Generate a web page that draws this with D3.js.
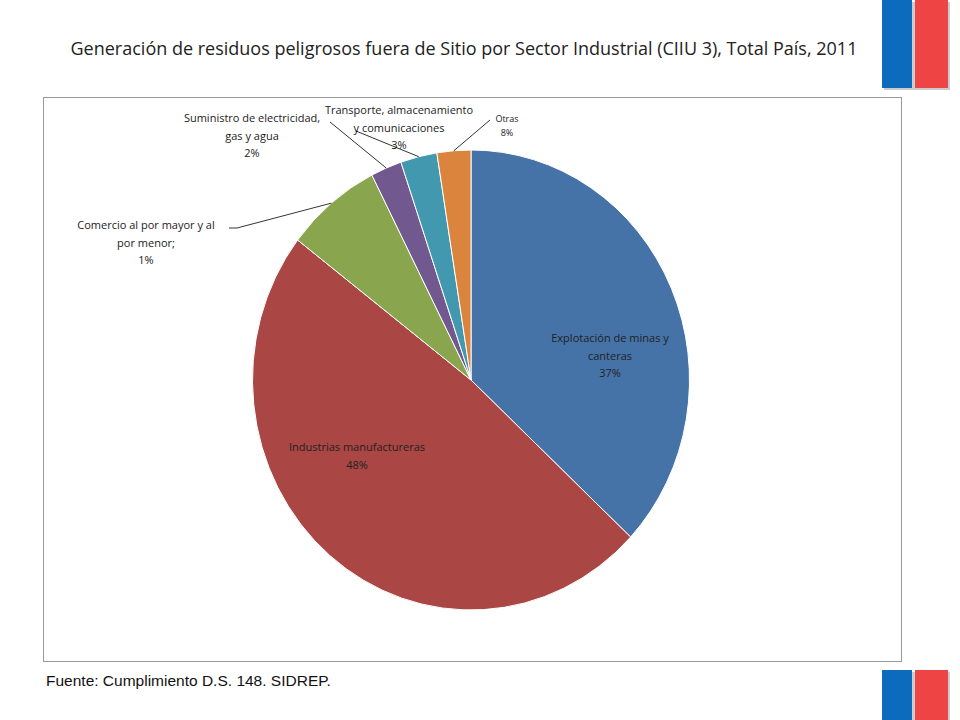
<!DOCTYPE html>
<html><head><meta charset="utf-8">
<script src="https://cdn.jsdelivr.net/npm/d3@7"></script>
<style>body{margin:0;background:#fff}</style>
</head><body><svg></svg>
<script>
// Datos
const sectors = ["Explotación de minas y canteras", "Industrias manufactureras", "Comercio al por mayor y al por menor;", "Suministro de electricidad, gas y agua", "Transporte, almacenamiento y comunicaciones", "Otras"];
const shares = [37, 48.5, 7.1, 2.3, 2.7, 2.5];
const labels = ["37%", "48%", "1%", "2%", "3%", "8%"];
const colors = ["#4572a7", "#aa4643", "#89a54e", "#71588f", "#4198af", "#db843d"];

const svg = d3.select("svg").attr("width", 960).attr("height", 720)
    .style("font-family", "Open Sans, sans-serif");

svg.append("text").attr("x", 464).attr("y", 55).attr("text-anchor", "middle")
    .attr("font-size", 18).attr("fill", "#222")
    .text("Generación de residuos peligrosos fuera de Sitio por Sector Industrial (CIIU 3), Total País, 2011");

// banderas
function flag(y, h) {
    svg.append("rect").attr("x", 884).attr("y", y + 2).attr("width", 66).attr("height", h).attr("fill", "#ccc");
    svg.append("rect").attr("x", 882).attr("y", y).attr("width", 30).attr("height", h).attr("fill", "#0c6bbd");
    svg.append("rect").attr("x", 915).attr("y", y).attr("width", 33).attr("height", h).attr("fill", "#ef4444");
}
flag(0, 88);
flag(670, 50);

svg.append("rect").attr("x", 43.5).attr("y", 97.5).attr("width", 858).attr("height", 564)
    .attr("fill", "none").attr("stroke", "#999");

const cx = 471, cy = 380, r = 230, sx = 0.95;
const pie = d3.pie().sort(null).value(d => d)(shares);
const arc = d3.arc().innerRadius(0).outerRadius(r);
const g = svg.append("g").attr("transform", `translate(${cx},${cy}) scale(${sx},1)`);
g.selectAll("path").data(pie).join("path")
    .attr("d", arc).attr("fill", (d, i) => colors[i])
    .attr("stroke", "#fff").attr("stroke-width", 1).attr("vector-effect", "non-scaling-stroke");

// etiquetas
const lab = [
    {lines: ["Explotación de minas y", "canteras", labels[0]], x: 610, y: 342, size: 11},
    {lines: ["Industrias manufactureras", labels[1]], x: 357, y: 451, size: 11},
    {lines: ["Comercio al por mayor y al", "por menor;", labels[2]], x: 146, y: 229, size: 11, lead: [229, 228, 2]},
    {lines: ["Suministro de electricidad,", "gas y agua", labels[3]], x: 252, y: 122, size: 11, lead: [330, 122, 3]},
    {lines: ["Transporte, almacenamiento", "y comunicaciones", labels[4]], x: 399, y: 114, size: 11, lead: [356, 131, 4]},
    {lines: ["Otras", labels[5]], x: 507, y: 122, size: 9, lead: [490, 120, 5]}
];
const outer = d3.arc().innerRadius(r).outerRadius(r);
lab.forEach(l => {
    const t = svg.append("text").attr("text-anchor", "middle").attr("font-size", l.size).attr("fill", "#222");
    l.lines.forEach((s, k) => t.append("tspan").attr("x", l.x).attr("y", l.y + k * l.size * 1.6).text(s));
    if (l.lead) {
        const c = outer.centroid(pie[l.lead[2]]);
        svg.append("polyline").attr("fill", "none").attr("stroke", "#000").attr("stroke-width", 0.8)
            .attr("points", `${l.lead[0]},${l.lead[1]} ${l.lead[0] + (l.lead[2] === 2 ? 8 : 0)},${l.lead[1]} ${cx + c[0] * sx},${cy + c[1]}`);
    }
});

svg.append("text").attr("x", 46).attr("y", 686).attr("font-size", 15.5)
    .style("font-family", "Liberation Sans, Arial, sans-serif").attr("fill", "#111")
    .text("Fuente: Cumplimiento D.S. 148. SIDREP.");
</script></body></html>
